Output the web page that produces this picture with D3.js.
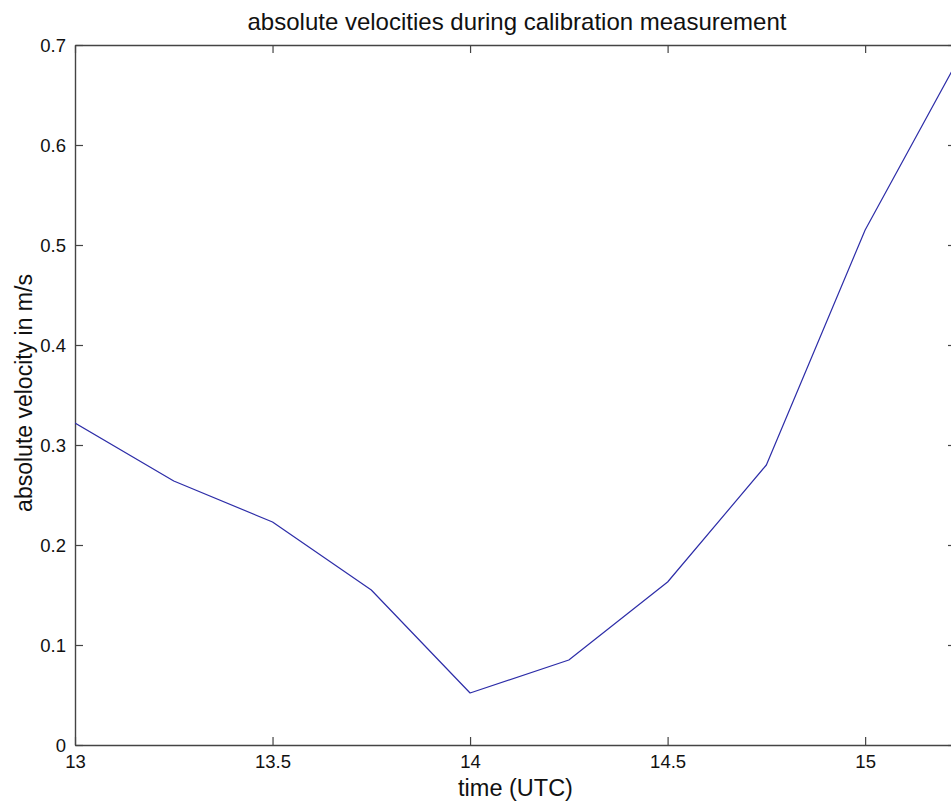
<!DOCTYPE html>
<html>
<head>
<meta charset="utf-8">
<script src="https://cdn.jsdelivr.net/npm/d3@7"></script>
<style>
  body { margin: 0; background: #fff; overflow: hidden; }
  text { font-family: "Liberation Sans", Arial, sans-serif; }
</style>
</head>
<body>
<svg id="chart" width="951" height="806"></svg>
<script>
// time in hours (UTC) and absolute velocity in m/s
const times = [13, 13.25, 13.5, 13.75, 14, 14.25, 14.5, 14.75, 15, 15.25];
const velocities = [0.322, 0.264, 0.223, 0.155, 0.052, 0.085, 0.163, 0.280, 0.515, 0.696];
const xTicks = [13, 13.5, 14, 14.5, 15];
const yTicks = [0, 0.1, 0.2, 0.3, 0.4, 0.5, 0.6, 0.7];

const svg = d3.select('#chart');

const margin = { top: 45, left: 75 };
const innerWidth = 881;   // runs past the right edge, the figure is cropped
const innerHeight = 700;
const tickLen = 8;
const axisColor = '#444';

const data = times.map((t, i) => ({ t: t, v: velocities[i] }));

const xScale = d3.scaleLinear()
    .domain([13, 15.23])
    .range([0, innerWidth]);

const yScale = d3.scaleLinear()
    .domain([0, 0.7])
    .range([innerHeight, 0]);

const g = svg.append('g')
    .attr('transform', `translate(${margin.left}, ${margin.top})`);

g.append('clipPath').attr('id', 'plot-clip')
    .append('rect')
    .attr('width', innerWidth)
    .attr('height', innerHeight);

// bottom axis, ticks pointing inward
const xAxisG = g.append('g')
    .attr('transform', `translate(0, ${innerHeight})`)
    .call(d3.axisBottom(xScale).tickValues(xTicks).tickSize(-tickLen).tickSizeOuter(0)
        .tickPadding(10).tickFormat(d3.format('')));

// left axis
const yAxisG = g.append('g')
    .call(d3.axisLeft(yScale).tickValues(yTicks).tickSize(-tickLen).tickSizeOuter(0)
        .tickPadding(9).tickFormat(d3.format('')));

// top and right box lines with inward ticks, no labels
const topG = g.append('g')
    .call(d3.axisTop(xScale).tickValues(xTicks).tickSize(-tickLen).tickSizeOuter(0));
const rightG = g.append('g')
    .attr('transform', `translate(${innerWidth}, 0)`)
    .call(d3.axisRight(yScale).tickValues(yTicks).tickSize(-tickLen).tickSizeOuter(0));
topG.selectAll('.tick text').remove();
rightG.selectAll('.tick text').remove();

g.selectAll('.domain').attr('stroke', axisColor).attr('stroke-width', 1.4);
g.selectAll('.tick line').attr('stroke', axisColor).attr('stroke-width', 1.2);
g.selectAll('.tick text').attr('fill', '#111').style('font-size', '18.5px');
yAxisG.selectAll('.tick text').attr('dy', '0.35em');

// velocity line
const line = d3.line()
    .x(d => xScale(d.t))
    .y(d => yScale(d.v));

g.append('path')
    .datum(data)
    .attr('clip-path', 'url(#plot-clip)')
    .attr('fill', 'none')
    .attr('stroke', '#2d2da8')
    .attr('stroke-width', 1.2)
    .attr('stroke-linejoin', 'round')
    .attr('d', line);

// labels
xAxisG.append('text')
    .attr('fill', '#111')
    .attr('x', innerWidth / 2)
    .attr('y', 51)
    .attr('text-anchor', 'middle')
    .style('font-size', '23.5px')
    .text('time (UTC)');

yAxisG.append('text')
    .attr('fill', '#111')
    .attr('transform', 'rotate(-90)')
    .attr('x', -348)
    .attr('y', -43)
    .attr('text-anchor', 'middle')
    .style('font-size', '23px')
    .text('absolute velocity in m/s');

svg.append('text')
    .attr('fill', '#111')
    .attr('x', 517)
    .attr('y', 30)
    .attr('text-anchor', 'middle')
    .style('font-size', '24px')
    .text('absolute velocities during calibration measurement');
</script>
</body>
</html>
